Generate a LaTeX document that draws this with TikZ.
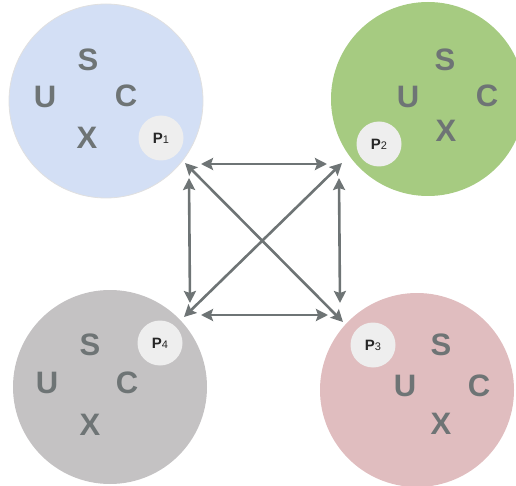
\documentclass[tikz,border=0pt]{standalone}
\usepackage{fontspec}
\setmainfont{Liberation Sans}
\usetikzlibrary{arrows.meta}
\definecolor{txtgray}{HTML}{6E7475}
\definecolor{cblue}{HTML}{D3DFF5}
\definecolor{cgreen}{HTML}{A6CB81}
\definecolor{cgray}{HTML}{C4C2C3}
\definecolor{cpink}{HTML}{E0BDBF}
\definecolor{pfill}{HTML}{EEEEEE}
\tikzset{
  big/.style={circle, minimum size=194pt, inner sep=0pt, draw=black!12, line width=0.8pt},
  letter/.style={text=txtgray, font=\fontsize{31}{31}\selectfont\bfseries, inner sep=0pt},
  pnode/.style={circle, fill=pfill, minimum size=45pt, inner sep=0pt, text=black!85, font=\fontsize{15}{15}\selectfont\bfseries},
  link/.style={draw=txtgray, line width=2.6pt, {Stealth[length=12pt,width=12pt,inset=2pt]}-{Stealth[length=12pt,width=12pt,inset=2pt]}},
}
\newcommand{\psub}[1]{P\fontsize{11}{11}\selectfont\mdseries #1}
\begin{document}
\begin{tikzpicture}[x=1pt,y=-1pt]
\useasboundingbox (0,0) rectangle (516,486);
\clip (0,0) rectangle (516,486);
% big circles
\node[big, fill=cblue] (c1) at (106,101) {};
\node[big, fill=cgreen, draw=none] (c2) at (428,99) {};
\node[big, fill=cgray, draw=none] (c4) at (110,387) {};
\node[big, fill=cpink, draw=none] (c3) at (417,390) {};
% circle 1
\node[letter] (s1) at (88,60) {S};
\node[letter] (u1) at (45,97) {U};
\node[letter] (cc1) at (126,96) {C};
\node[letter] (x1) at (87,138) {X};
\node[pnode] (p1) at (161,138) {\psub{1}};
% circle 2
\node[letter] (s2) at (445,60) {S};
\node[letter] (u2) at (408,97) {U};
\node[letter] (cc2) at (487,96) {C};
\node[letter] (x2) at (446,131) {X};
\node[pnode] (p2) at (379,144) {\psub{2}};
% circle 4 (bottom-left)
\node[letter] (s4) at (90,345) {S};
\node[letter] (u4) at (47,383) {U};
\node[letter] (cc4) at (127,383) {C};
\node[letter] (x4) at (90,425) {X};
\node[pnode] (p4) at (160,343) {\psub{4}};
% circle 3 (bottom-right)
\node[letter] (s3) at (441,345) {S};
\node[letter] (u3) at (405,386) {U};
\node[letter] (cc3) at (479,386) {C};
\node[letter] (x3) at (441,424) {X};
\node[pnode] (p3) at (373,345) {\psub{3}};
% arrow end points
\coordinate (th1) at (201,164);
\coordinate (th2) at (327,164);
\coordinate (bh1) at (201,315);
\coordinate (bh2) at (328,315);
\coordinate (lv1) at (189,178);
\coordinate (lv2) at (190,303);
\coordinate (rv1) at (339,178);
\coordinate (rv2) at (340,303);
\coordinate (d1a) at (185,163);
\coordinate (d1b) at (343,322);
\coordinate (d2a) at (342,163);
\coordinate (d2b) at (184,317);
\draw[link] (th1) -- (th2);
\draw[link] (bh1) -- (bh2);
\draw[link] (lv1) -- (lv2);
\draw[link] (rv1) -- (rv2);
\draw[link] (d1a) -- (d1b);
\draw[link] (d2a) -- (d2b);
\end{tikzpicture}
\end{document}
